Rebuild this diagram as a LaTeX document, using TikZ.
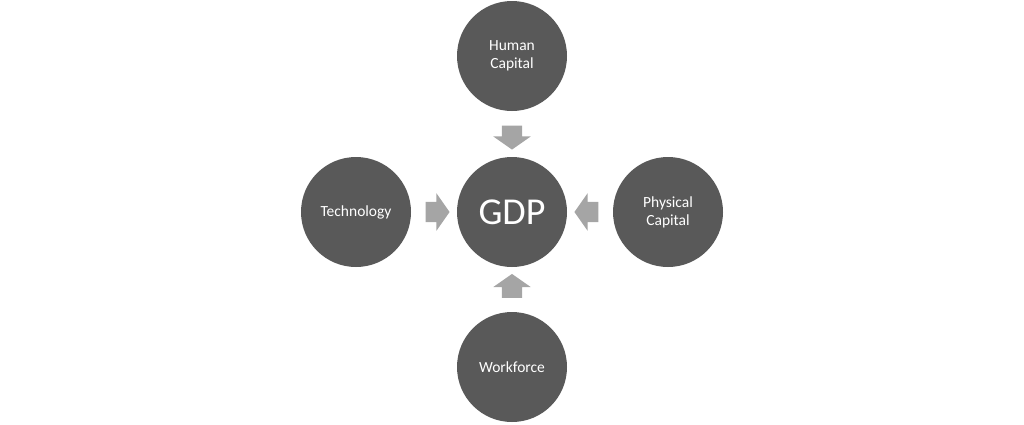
\documentclass[tikz,border=0pt]{standalone}
\usepackage{fontspec}
\setmainfont{Carlito}
\usetikzlibrary{positioning,calc,shapes.arrows}
\definecolor{circgray}{HTML}{595959}
\definecolor{arrgray}{HTML}{A5A5A5}
\begin{document}
\begin{tikzpicture}[x=1pt,y=1pt,node distance=156pt,on grid]
			\tikzstyle{factor} = [circle,fill=circgray,text=white,minimum size=110pt,inner sep=0pt,align=center,font=\fontsize{15.5}{18}\selectfont]
			\tikzstyle{blk}    = [single arrow,fill=arrgray,draw=none,inner xsep=0pt,inner ysep=10pt,minimum height=24pt,single arrow head extend=8.5pt,single arrow tip angle=110]
			
			\useasboundingbox (0,0) rectangle (1024,-424);
			
			\node[factor,font=\fontsize{38}{40}\selectfont] (gdp) at (512,-212) {GDP};
			\node[factor,above=of gdp] (hc) {Human\\Capital};
			\node[factor,left=of gdp]  (te) {Technology};
			\node[factor,right=of gdp] (pc) {Physical\\Capital};
			\node[factor,below=155pt of gdp] (wf) {Workforce};
			
			\node[blk,rotate=-90] (a1) at ($(hc)!0.5!(gdp)$) {};
			\node[blk]            (a2) at ($(te)!0.5!(gdp)$) {};
			\node[blk,rotate=180] (a3) at ($(pc)!0.5!(gdp)$) {};
			\node[blk,rotate=90]  (a4) at ($(wf)!0.5!(gdp)$) {};
		\end{tikzpicture}
\end{document}
